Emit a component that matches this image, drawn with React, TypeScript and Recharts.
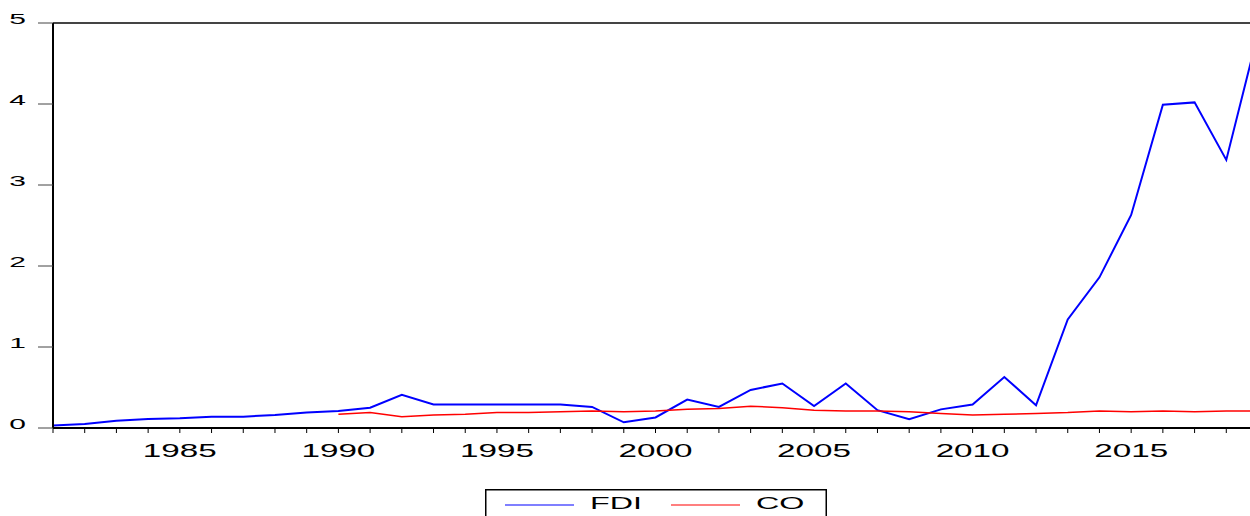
import React from "react";
import { LineChart, Line, XAxis, YAxis, ReferenceLine, Legend } from "recharts";

const years = [
  1981, 1982, 1983, 1984, 1985, 1986, 1987, 1988, 1989, 1990,
  1991, 1992, 1993, 1994, 1995, 1996, 1997, 1998, 1999, 2000,
  2001, 2002, 2003, 2004, 2005, 2006, 2007, 2008, 2009, 2010,
  2011, 2012, 2013, 2014, 2015, 2016, 2017, 2018, 2019,
];

const fdi = [
  0.03, 0.05, 0.09, 0.11, 0.12, 0.14, 0.14, 0.16, 0.19, 0.21,
  0.25, 0.41, 0.29, 0.29, 0.29, 0.29, 0.29, 0.26, 0.07, 0.13,
  0.35, 0.26, 0.47, 0.55, 0.27, 0.55, 0.22, 0.11, 0.23, 0.29,
  0.63, 0.28, 1.34, 1.86, 2.63, 3.99, 4.02, 3.31, 4.87,
];

const co: (number | null)[] = [
  null, null, null, null, null, null, null, null, null, 0.17,
  0.19, 0.14, 0.16, 0.17, 0.19, 0.19, 0.2, 0.21, 0.2, 0.21,
  0.23, 0.24, 0.27, 0.25, 0.22, 0.21, 0.21, 0.2, 0.18, 0.16,
  0.17, 0.18, 0.19, 0.21, 0.2, 0.21, 0.2, 0.21, 0.21,
];

const yTicks = [0, 1, 2, 3, 4, 5];
const seriesOrder = ["FDI", "CO"];

const data = years.map((year, i) => ({ year, FDI: fdi[i], CO: co[i] }));

const FONT = "'Liberation Sans', Arial, Helvetica, sans-serif";

const XTick = (props: any) => {
  const { x, y, payload } = props;
  if (payload.value % 5 !== 0) return <g />;
  return (
    <text
      transform={`translate(${x},${y + 22}) scale(1.75,1)`}
      textAnchor="middle"
      fontSize={19}
      fontFamily={FONT}
      fill="#000"
    >
      {payload.value}
    </text>
  );
};

const YTick = (props: any) => {
  const { x, y, payload } = props;
  return (
    <text
      transform={`translate(${x},${y + 1}) scale(2,1)`}
      textAnchor="end"
      fontSize={15}
      fontFamily={FONT}
      fill="#000"
    >
      {payload.value}
    </text>
  );
};

const LegendBox = (props: any) => {
  const payload = [...(props.payload || [])].sort(
    (a: any, b: any) => seriesOrder.indexOf(a.value) - seriesOrder.indexOf(b.value)
  );
  return (
    <svg width={342} height={40} style={{ display: "block" }}>
      <rect x={0.75} y={0.75} width={340.5} height={60} fill="#fff" stroke="#000" strokeWidth={1.5} />
      {payload.map((entry: any, i: number) => {
        const off = i * 166;
        return (
          <g key={entry.value}>
            <line x1={20 + off} x2={89 + off} y1={16} y2={16} stroke={entry.color} strokeWidth={1.2} />
            <text
              transform={`translate(${105 + off},${20}) scale(1.9,1)`}
              fontSize={17}
              fontFamily={FONT}
              fill="#000"
            >
              {entry.value}
            </text>
          </g>
        );
      })}
    </svg>
  );
};

export default function App() {
  return (
    <div
      style={{
        position: "absolute",
        left: 0,
        top: 0,
        width: 1250,
        height: 516,
        overflow: "hidden",
        background: "#fff",
      }}
    >
      <LineChart
        width={1300}
        height={516}
        data={data}
        margin={{ top: 23, right: 42, left: 0, bottom: 48 }}
      >
        <XAxis
          dataKey="year"
          type="number"
          domain={[1981, 2019]}
          ticks={years}
          interval={0}
          height={40}
          tickSize={5}
          axisLine={{ stroke: "#000", strokeWidth: 2 }}
          tickLine={{ stroke: "#000", strokeWidth: 1 }}
          tick={<XTick />}
        />
        <YAxis
          type="number"
          domain={[0, 5]}
          ticks={yTicks}
          interval={0}
          width={53}
          tickSize={15}
          tickMargin={12}
          axisLine={{ stroke: "#000", strokeWidth: 2 }}
          tickLine={{ stroke: "#444", strokeWidth: 1 }}
          tick={<YTick />}
        />
        <ReferenceLine y={5} stroke="#444" strokeWidth={2} />
        <Legend
          layout="horizontal"
          align="center"
          verticalAlign="middle"
          content={<LegendBox />}
          wrapperStyle={{ left: 485, top: 489, width: 342, height: 40 }}
        />
        <Line
          type="linear"
          dataKey="FDI"
          name="FDI"
          stroke="#0000FF"
          strokeWidth={2}
          dot={false}
          isAnimationActive={false}
        />
        <Line
          type="linear"
          dataKey="CO"
          name="CO"
          stroke="#FF0000"
          strokeWidth={1.5}
          dot={false}
          connectNulls={false}
          isAnimationActive={false}
        />
      </LineChart>
    </div>
  );
}
